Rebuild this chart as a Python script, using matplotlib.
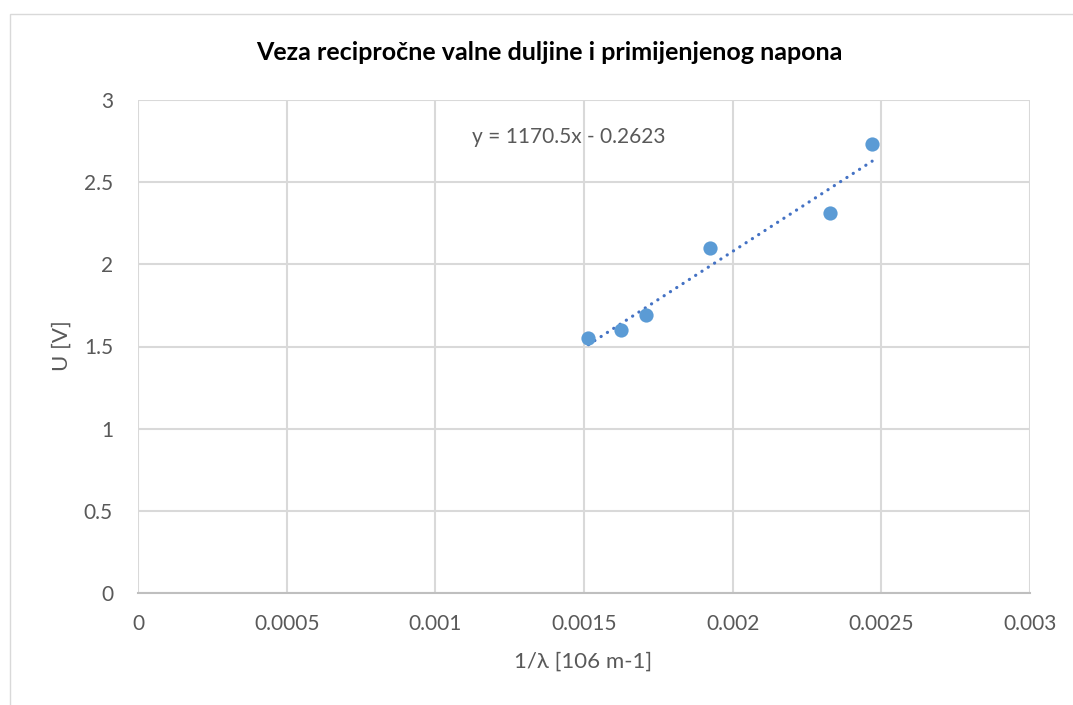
import numpy as np
import matplotlib
matplotlib.use("Agg")
import matplotlib.pyplot as plt
from matplotlib.patches import Rectangle

# Measured data: reciprocal wavelength vs. applied voltage
inv_wavelength = [0.001515, 0.001626, 0.001709, 0.001923, 0.002326, 0.002469]
voltage = [1.55, 1.60, 1.69, 2.10, 2.31, 2.73]

# linear trendline coefficients
fit_slope = 1170.5
fit_intercept = -0.2623

x_ticks = [0, 0.0005, 0.001, 0.0015, 0.002, 0.0025, 0.003]
x_tick_labels = ["0", "0.0005", "0.001", "0.0015", "0.002", "0.0025", "0.003"]
y_ticks = [0, 0.5, 1, 1.5, 2, 2.5, 3]
y_tick_labels = ["0", "0.5", "1", "1.5", "2", "2.5", "3"]

title = "Veza recipročne valne duljine i primijenjenog napona"
x_label = "1/λ [106 m-1]"
y_label = "U [V]"

plt.rcParams["font.family"] = ["Lato", "DejaVu Sans"]

W, H = 1073, 705
fig = plt.figure(figsize=(W / 100, H / 100), dpi=100)

# chart frame
fig.patches.append(Rectangle((10 / W, -0.1), 1.2, 1 - 14 / H + 0.1,
                             transform=fig.transFigure, fill=False,
                             edgecolor="#d9d9d9", linewidth=1.0))

ax = fig.add_axes([138 / W, 1 - 593 / H, (1030 - 138) / W, (593 - 100) / H])
ax.set_xlim(0, 0.003)
ax.set_ylim(0, 3)

ax.set_xticks(x_ticks)
ax.set_xticklabels(x_tick_labels)
ax.set_yticks(y_ticks)
ax.set_yticklabels(y_tick_labels)
ax.tick_params(length=0, labelsize=15, labelcolor="#595959")
ax.tick_params(axis="x", pad=15)
ax.tick_params(axis="y", pad=18)

ax.grid(True, color="#d9d9d9", linewidth=1.5)
ax.set_axisbelow(True)
for side in ["top", "right", "left"]:
    ax.spines[side].set_visible(False)
ax.spines["bottom"].set_color("#bfbfbf")
ax.spines["bottom"].set_linewidth(1.5)

# trendline across the measured range
x = np.array(inv_wavelength)
y = np.array(voltage)
xf = np.array([x.min(), x.max()])
ax.plot(xf, fit_slope * xf + fit_intercept, linestyle=(0, (0.05, 2.3)),
        color="#4472c4", linewidth=2.3, dash_capstyle="round", zorder=3)

ax.scatter(x, y, s=105, color="#5b9bd5", zorder=4, linewidths=0)

ax.text(0.00145, 2.775, f"y = {fit_slope:.1f}x - {-fit_intercept:.4f}",
        ha="center", va="center", fontsize=15, color="#595959")

fig.text(549 / W, 1 - 52 / H, title, ha="center", va="center",
         fontsize=18, fontweight="bold", color="#000000")

ax.set_xlabel(x_label, fontsize=16, color="#595959", va="center")
ax.xaxis.set_label_coords(583 / W, 1 - 662 / H, transform=fig.transFigure)
ax.set_ylabel(y_label, fontsize=16, color="#595959", va="center")
ax.yaxis.set_label_coords(62 / W, 1 - 346 / H, transform=fig.transFigure)

fig.savefig("out.png", dpi=100, facecolor="white")
